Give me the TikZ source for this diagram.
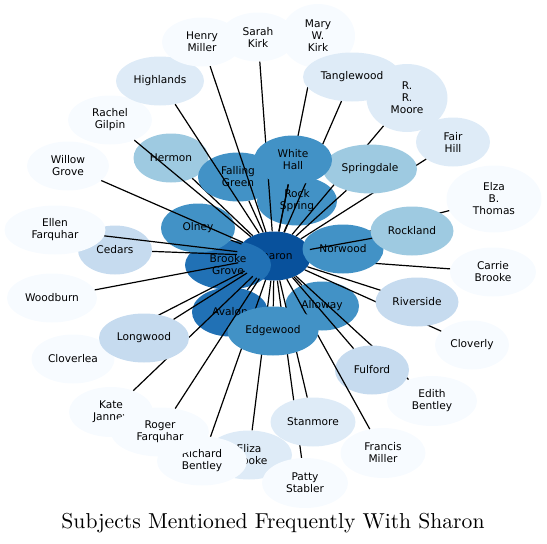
\documentclass[tikz,border=0pt]{standalone}
\usepackage{fontspec}
\usetikzlibrary{shapes.geometric}
\newfontfamily\nwsans{DejaVu Sans}
\newfontfamily\nwserif{lmroman10-regular.otf}
\definecolor{nwdeep}{HTML}{08519C}
\definecolor{nwdark}{HTML}{2171B5}
\definecolor{nwmid}{HTML}{4292C6}
\definecolor{nwsoft}{HTML}{9ECAE1}
\definecolor{nwpale}{HTML}{C6DBEF}
\definecolor{nwmist}{HTML}{DEEBF7}
\definecolor{nwsnow}{HTML}{F7FBFF}
\tikzset{
  nw node/.style={ellipse, inner sep=0pt, minimum width=74pt, minimum height=49pt,
    align=center, text=black, font=\nwsans\fontsize{10.6}{12}\selectfont},
  nw edge/.style={draw=black, line width=1.2pt},
  nw title/.style={anchor=base, font=\nwserif\fontsize{21.6}{26}\selectfont}
}

\begin{document}
\begin{tikzpicture}[x=1pt, y=-1pt]
  \useasboundingbox (0,0) rectangle (547,544);
  \node[nw node, fill=nwdeep] (sharon) at (274,256) {Sharon};
  \node[nw node, fill=nwdark, minimum width=86pt] (brooke) at (228,265) {Brooke\\Grove};
  % inner ring first, the spokes run over it
  \foreach \nm/\x/\y/\w/\h/\col/\lab in {
      olney/198/228/74/49/nwmid/Olney,
      hermon/171/158/75/49/nwsoft/Hermon,
      falling/238/177/80/49/nwmid/{Falling\\Green},
      rockspring/297/201/80/49/nwmid/{Rock\\Spring},
      alloway/322/306/74/49/nwmid/Alloway,
      avalon/230/312/76/49/nwdark/Avalon,
      elza/494/199/95/67/nwsnow/{Elza\\B.\\Thomas},
      carrie/493/272/86/49/nwsnow/{Carrie\\Brooke}} {
    \node[nw node, fill=\col, minimum width=\w pt, minimum height=\h pt] (\nm) at (\x,\y) {\lab};
    \draw[nw edge] (sharon) -- (\nm);
  }
  \node[nw node, fill=nwmid, minimum width=81pt] (norwood) at (343,249) {Norwood};
  % outer places, later ones hide earlier spokes
  \foreach \nm/\x/\y/\w/\h/\col/\lab in {
      rockland/412/231/83/49/nwsoft/Rockland,
      cloverly/472/345/74/49/nwsnow/Cloverly,
      riverside/417/302/83/49/nwpale/Riverside,
      edith/432/401/90/50/nwsnow/{Edith\\Bentley},
      fulford/372/370/74/49/nwpale/Fulford,
      francis/383/453/85/50/nwsnow/{Francis\\Miller},
      eliza/249/455/86/49/nwmist/{Eliza\\Brooke},
      patty/305/483/86/50/nwsnow/{Patty\\Stabler},
      stanmore/313/422/85/49/nwmist/Stanmore,
      richard/202/461/90/49/nwsnow/{Richard\\Bentley},
      edgewood/273/331/91/49/nwmid/Edgewood,
      kate/111/412/84/50/nwsnow/{Kate\\Janney},
      roger/160/432/98/49/nwsnow/{Roger\\Farquhar},
      cloverlea/73/359/83/49/nwsnow/Cloverlea,
      longwood/144/338/90/49/nwpale/Longwood,
      woodburn/52/298/90/49/nwsnow/Woodburn,
      cedars/115/250/74/49/nwpale/Cedars,
      ellen/55/230/101/49/nwsnow/{Ellen\\Farquhar},
      willow/68/166/82/49/nwsnow/{Willow\\Grove},
      rachel/110/120/84/49/nwsnow/{Rachel\\Gilpin},
      highlands/160/81/88/49/nwmist/Highlands,
      henry/202/42/80/49/nwsnow/{Henry\\Miller},
      sarah/258/37/76/49/nwsnow/{Sarah\\Kirk},
      mary/318/36/74/64/nwsnow/{Mary\\W.\\Kirk},
      moore/407/98/81/68/nwmist/{R.\\R.\\Moore},
      tanglewood/352/77/98/49/nwmist/Tanglewood,
      fairhill/453/142/74/49/nwmist/{Fair\\Hill},
      springdale/370/169/94/49/nwsoft/Springdale,
      whitehall/293/160/78/49/nwmid/{White\\Hall}} {
    \node[nw node, fill=\col, minimum width=\w pt, minimum height=\h pt] (\nm) at (\x,\y) {\lab};
    \draw[nw edge] (sharon) -- (\nm);
  }
  \node[nw title] (title) at (273,528) {Subjects Mentioned Frequently With Sharon};
\end{tikzpicture}
\end{document}
